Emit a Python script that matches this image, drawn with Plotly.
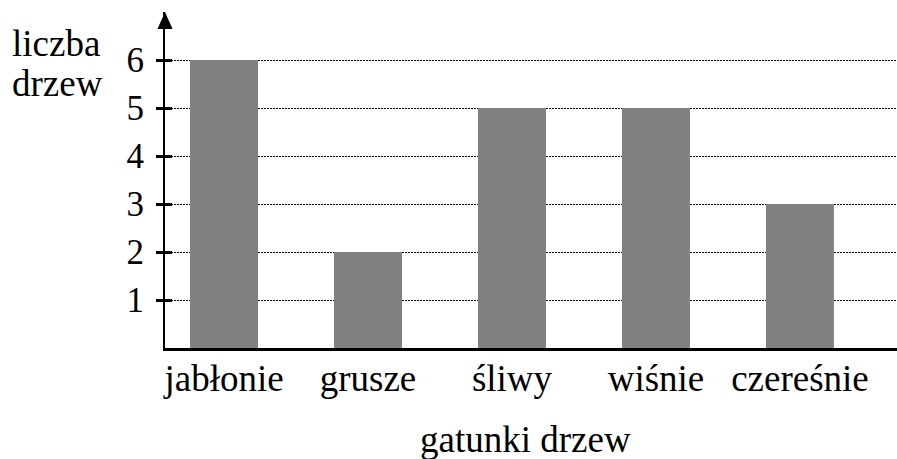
import plotly.graph_objects as go

categories = ["jabłonie", "grusze", "śliwy", "wiśnie", "czereśnie"]
values = [6, 2, 5, 5, 3]
y_ticks = [1, 2, 3, 4, 5, 6]

FONT = "Liberation Serif"
TXT = 37
W, H = 897, 459
L, R, T, B = 165, 0, 12, 111
PW, PH = W - L - R, H - T - B


def px_x(x):
    return (x - L) / PW


def px_y(y):
    return (H - B - y) / PH


fig = go.Figure()
fig.add_trace(go.Bar(x=categories, y=values, marker=dict(color="#808080", line=dict(width=0)),
                     width=0.472, hoverinfo="skip"))
fig.add_trace(go.Scatter(x=[], y=[], yaxis="y2", showlegend=False, hoverinfo="skip"))

fig.update_layout(
    width=W, height=H,
    margin=dict(l=L, r=R, t=T, b=B),
    plot_bgcolor="white", paper_bgcolor="white",
    showlegend=False,
    font=dict(family=FONT, size=TXT, color="black"),
    xaxis=dict(
        type="category", range=[-0.41, 4.674],
        showline=True, linecolor="black", linewidth=3,
        ticks="", showgrid=False, zeroline=False,
        ticklabelstandoff=-4,
        tickfont=dict(family=FONT, size=TXT, color="black"),
    ),
    yaxis=dict(
        range=[0, 7], tickvals=y_ticks, ticktext=[str(v) for v in y_ticks],
        showline=True, linecolor="black", linewidth=2,
        ticks="outside", ticklen=7, tickwidth=3, tickcolor="black",
        ticklabelstandoff=5,
        showgrid=True, gridcolor="black", gridwidth=1, griddash="2px,1px",
        zeroline=False,
        tickfont=dict(family=FONT, size=35, color="black"),
    ),
    yaxis2=dict(
        overlaying="y", range=[0, 7], tickvals=y_ticks,
        ticks="inside", ticklen=7, tickwidth=3, tickcolor="black",
        showticklabels=False, showgrid=False, zeroline=False, showline=False,
        side="left",
    ),
    shapes=[dict(
        type="path", xref="paper", yref="paper",
        xsizemode="pixel", ysizemode="pixel", xanchor=0, yanchor=1,
        path="M -7.5,-17 L 7.5,-17 L 0,0 Z",
        fillcolor="black", line=dict(width=0),
    )],
    annotations=[
        dict(text="liczba", xref="paper", yref="paper", x=px_x(10), y=px_y(43),
             xanchor="left", yanchor="middle", showarrow=False,
             font=dict(family=FONT, size=TXT, color="black")),
        dict(text="drzew", xref="paper", yref="paper", x=px_x(10), y=px_y(83),
             xanchor="left", yanchor="middle", showarrow=False,
             font=dict(family=FONT, size=TXT, color="black")),
        dict(text="gatunki drzew", xref="paper", yref="paper", x=px_x(525), y=px_y(439),
             xanchor="center", yanchor="middle", showarrow=False,
             font=dict(family=FONT, size=TXT, color="black")),
    ],
)

fig.write_html("out.html", config={"displayModeBar": False},
               post_script="document.body.style.margin='0';document.body.style.overflow='hidden';")
